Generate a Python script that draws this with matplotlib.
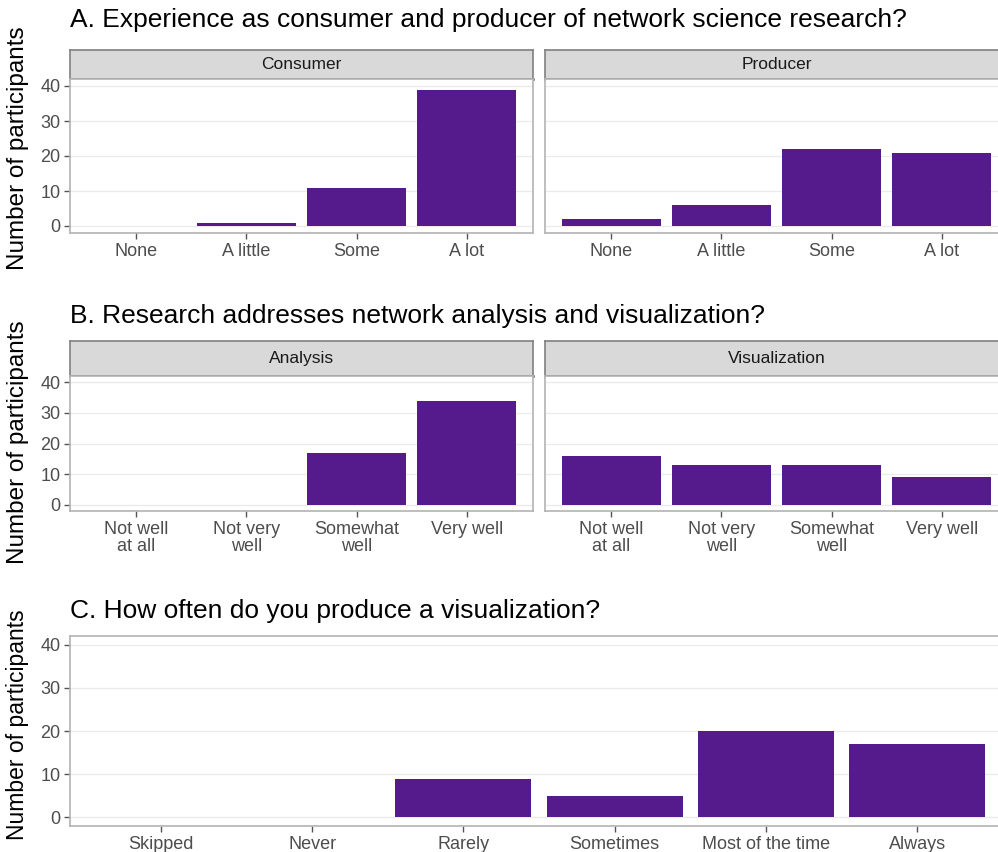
import matplotlib
matplotlib.use('Agg')
import matplotlib.pyplot as plt

plt.rcParams['font.family'] = ['Liberation Sans', 'DejaVu Sans']

# A. consumer / producer experience
exp_levels = ['None', 'A little', 'Some', 'A lot']
consumer = [0, 1, 11, 39]
producer = [2, 6, 22, 21]

# B. research addresses analysis / visualization
addr_levels = ['Not well\nat all', 'Not very\nwell', 'Somewhat\nwell', 'Very well']
analysis = [0, 0, 17, 34]
visualization = [16, 13, 13, 9]

# C. how often produce a visualization
freq_levels = ['Skipped', 'Never', 'Rarely', 'Sometimes', 'Most of the time', 'Always']
freq_counts = [0, 0, 9, 5, 20, 17]

y_ticks = [0, 10, 20, 30, 40]

W, H = 998, 852
BAR = '#551A8B'
BORDER = '#B3B3B3'
GRID = '#EBEBEB'
TICKCOL = '#4D4D4D'


def box(x0, y0, x1, y1):
    # pixel box (top-left origin) -> figure fraction rect
    return [x0 / W, 1 - y1 / H, (x1 - x0) / W, (y1 - y0) / H]


fig = plt.figure(figsize=(W / 100, H / 100), dpi=100)


def panel(rect, cats, vals, show_y=True):
    ax = fig.add_axes(rect)
    ax.bar(range(len(cats)), vals, width=0.9, color=BAR, edgecolor='none', zorder=3)
    ax.set_xlim(-0.6, len(cats) - 0.4)
    ax.set_ylim(-2, 42)
    ax.set_xticks(range(len(cats)))
    ax.set_xticklabels(cats, fontsize=13, color=TICKCOL, linespacing=1.05)
    ax.set_yticks(y_ticks)
    if show_y:
        ax.set_yticklabels([str(v) for v in y_ticks], fontsize=13, color=TICKCOL)
    else:
        ax.set_yticklabels([])
    ax.tick_params(axis='both', length=4, width=1, color='#555555', pad=3)
    ax.grid(axis='y', color=GRID, linewidth=1, zorder=0)
    for s in ax.spines.values():
        s.set_color(BORDER)
        s.set_linewidth(1.2)
    if not show_y:
        ax.tick_params(axis='y', length=0)
    return ax


def strip(rect, label):
    sa = fig.add_axes(rect)
    sa.set_facecolor('#D9D9D9')
    sa.set_xticks([])
    sa.set_yticks([])
    for s in sa.spines.values():
        s.set_color('#808080')
        s.set_linewidth(1.2)
    sa.spines['bottom'].set_color('#666666')
    sa.spines['bottom'].set_linewidth(1.8)
    sa.text(0.5, 0.5, label, ha='center', va='center', fontsize=12.5,
            color='#1A1A1A', transform=sa.transAxes)


def ylab(ycenter, size):
    fig.text(18 / W, 1 - ycenter / H, 'Number of participants', rotation=90,
             fontsize=size, ha='center', va='center')


# Row A
fig.text(70 / W, 1 - 20 / H, 'A. Experience as consumer and producer of network science research?',
         fontsize=19, ha='left', va='center')
strip(box(70, 50, 533, 79), 'Consumer')
strip(box(545, 50, 1008, 79), 'Producer')
panel(box(70, 79, 533, 233), exp_levels, consumer, show_y=True)
panel(box(545, 79, 1008, 233), exp_levels, producer, show_y=False)
ylab(148, 17.5)

# Row B
fig.text(70 / W, 1 - 316 / H, 'B. Research addresses network analysis and visualization?',
         fontsize=19, ha='left', va='center')
strip(box(70, 341, 533, 376), 'Analysis')
strip(box(545, 341, 1008, 376), 'Visualization')
panel(box(70, 376, 533, 511), addr_levels, analysis, show_y=True)
panel(box(545, 376, 1008, 511), addr_levels, visualization, show_y=False)
ylab(442, 17.5)

# Row C
fig.text(70 / W, 1 - 611 / H, 'C. How often do you produce a visualization?',
         fontsize=19, ha='left', va='center')
panel(box(70, 636, 1008, 826), freq_levels, freq_counts, show_y=True)
ylab(725, 16.5)

fig.savefig('out.png', dpi=100, facecolor='white')
